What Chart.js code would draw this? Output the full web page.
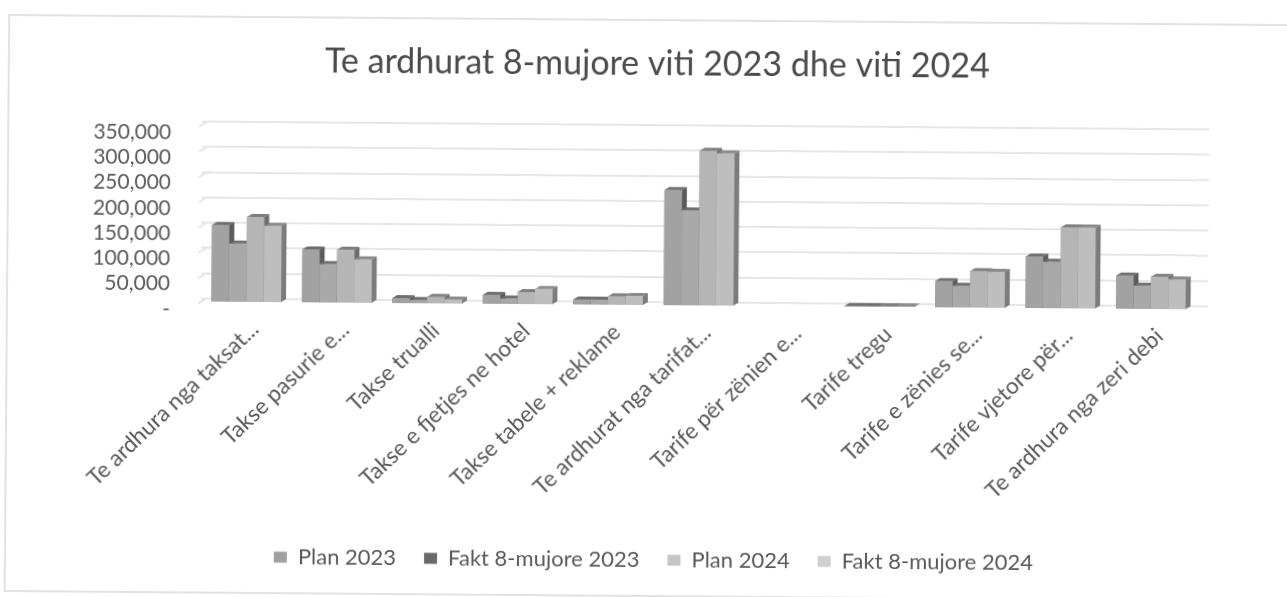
<!DOCTYPE html>
<html><head><meta charset="utf-8">
<script src="https://cdn.jsdelivr.net/npm/chart.js@4"></script>
<style>
html,body{margin:0;padding:0;width:1287px;height:597px;overflow:hidden;background:#fff}
#sheet{position:absolute;left:0;top:0;width:1287px;height:597px;transform:rotate(0.45deg);transform-origin:643px 298px;filter:blur(0.45px)}
#frame{position:absolute;left:6px;top:19px;width:1400px;height:574px;border:2px solid #e2e2e2}
#wrap{position:absolute;left:24px;top:0;width:1263px;height:597px}
</style></head>
<body>
<div id="sheet"><div id="frame"></div><div id="wrap"><canvas id="c" width="1263" height="597"></canvas></div></div>
<script>
const chartTitle = 'Te ardhurat 8-mujore viti 2023 dhe viti 2024';
const categories = ['Te ardhura nga taksat...','Takse pasurie e...','Takse trualli','Takse e fjetjes ne hotel','Takse tabele + reklame','Te ardhurat nga tarifat...','Tarife për zënien e...','Tarife tregu','Tarife e zënies se...','Tarife vjetore për...','Te ardhura nga zeri debi'];
const plan2023 = [152000,105000,10000,18000,10000,228000,null,1500,52000,102000,66000];
const fakt2023 = [115000,76000,6500,11000,10000,188000,null,1500,43000,92000,46000];
const plan2024 = [168000,105000,13000,24000,17000,306000,null,1500,72000,160000,64000];
const fakt2024 = [151000,86000,8000,30000,18000,301000,null,1500,71000,160000,59000];
const seriesNames = ['Plan 2023','Fakt 8-mujore 2023','Plan 2024','Fakt 8-mujore 2024'];
const seriesColors = ['#a2a2a2','#a9a9a9','#b5b5b5','#bebebe'];
const legendColors = ['#a0a0a0','#6a6a6a','#c4c4c4','#cfcfcf'];
const tickValues = [0,50000,100000,150000,200000,250000,300000,350000];
const tickLabels = ['-','50,000','100,000','150,000','200,000','250,000','300,000','350,000'];

const U = 50000/25.4; // value per pixel of the axis
const PLOT_H_TOP = 121, PLOT_H_BOT = 315;
function range(zeroY){ return {min:-(PLOT_H_BOT-zeroY)*U, max:(zeroY-PLOT_H_TOP)*U}; }
const setTicks = s => { s.ticks = tickValues.map(v=>({value:v})); };

const depth = {dx:5, dy:3};
const caps = ['#6f6f6f','#707070','#7f7f7f','#8a8a8a'];
const sides = ['#5a5a5a','#606060','#6e6e6e','#7c7c7c'];
const threeD = {
  id:'threeD',
  beforeDatasetsDraw(chart){
    const g = chart.scales.yGrid, a = chart.chartArea, ctx = chart.ctx;
    ctx.save(); ctx.strokeStyle='#e6e6e6'; ctx.lineWidth=2;
    tickValues.forEach(v=>{
      const y = g.getPixelForValue(v);
      ctx.beginPath(); ctx.moveTo(a.left-3,y+5); ctx.lineTo(a.left+5,y); ctx.lineTo(a.left+8,y); ctx.stroke();
      ctx.beginPath(); ctx.moveTo(a.right,y); ctx.lineTo(a.right+12,y); ctx.stroke();
    });
    ctx.restore();
  },
  afterDatasetsDraw(chart){
    const ctx = chart.ctx;
    chart.data.datasets.forEach((ds,i)=>{
      const meta = chart.getDatasetMeta(i);
      meta.data.forEach((el,j)=>{
        if(ds.data[j]==null) return;
        el.draw(ctx);
        const p = el.getProps(['x','y','base','width'],true);
        const l=p.x-p.width/2, r=p.x+p.width/2, t=p.y, b=p.base;
        ctx.fillStyle=caps[i];
        ctx.beginPath();ctx.moveTo(l,t);ctx.lineTo(r,t);ctx.lineTo(r+depth.dx,t-depth.dy);ctx.lineTo(l+depth.dx,t-depth.dy);ctx.closePath();ctx.fill();
        ctx.fillStyle=sides[i];
        ctx.beginPath();ctx.moveTo(r,t);ctx.lineTo(r+depth.dx,t-depth.dy);ctx.lineTo(r+depth.dx,b-depth.dy);ctx.lineTo(r,b);ctx.closePath();ctx.fill();
      });
    });
  }
};

const FONT='Lato, "Open Sans", sans-serif';
const values=[plan2023,fakt2023,plan2024,fakt2024];
new Chart(document.getElementById('c'),{
  type:'bar',
  data:{labels:categories,datasets:values.map((d,i)=>({label:seriesNames[i],data:d,backgroundColor:seriesColors[i],borderWidth:0,barPercentage:1,categoryPercentage:0.77}))},
  options:{
    responsive:false,animation:false,
    layout:{padding:{left:0,right:0,top:0,bottom:16}},
    plugins:{
      title:{display:true,text:chartTitle,color:'#4a4a4a',font:{family:FONT,size:34,weight:'normal'},padding:{top:44,bottom:36}},
      legend:{position:'bottom',labels:{color:'#595959',font:{family:FONT,size:22},boxWidth:13,boxHeight:11,padding:28,
        generateLabels:c=>seriesNames.map((n,i)=>({text:n,fillStyle:legendColors[i],strokeStyle:legendColors[i],lineWidth:0,fontColor:'#595959',datasetIndex:i}))}},
      tooltip:{enabled:false}
    },
    scales:{
      x:{grid:{display:false,drawTicks:false},border:{display:false},
         ticks:{color:'#595959',font:{family:FONT,size:22.5},minRotation:44,maxRotation:44,padding:5,labelOffset:9,autoSkip:false},
         afterFit:s=>{s.height=207;}},
      y:{display:false,...range(306)},
      yGrid:{position:'left',...range(303),afterBuildTicks:setTicks,grid:{color:'#e6e6e6',lineWidth:2,drawTicks:false},border:{display:false},ticks:{display:false},afterFit:s=>{s.width=0;}},
      yLabel:{position:'left',...range(314),afterBuildTicks:setTicks,grid:{display:false,drawTicks:false},border:{display:false},
        ticks:{color:'#595959',font:{family:FONT,size:21},padding:31,autoSkip:false,callback:v=>tickLabels[tickValues.indexOf(v)]},
        afterFit:s=>{s.width=177;}},
      yPad:{position:'right',grid:{display:false,drawTicks:false},border:{display:false},ticks:{display:false},afterFit:s=>{s.width=91;}}
    }
  },
  plugins:[threeD]
});
</script>
</body></html>
